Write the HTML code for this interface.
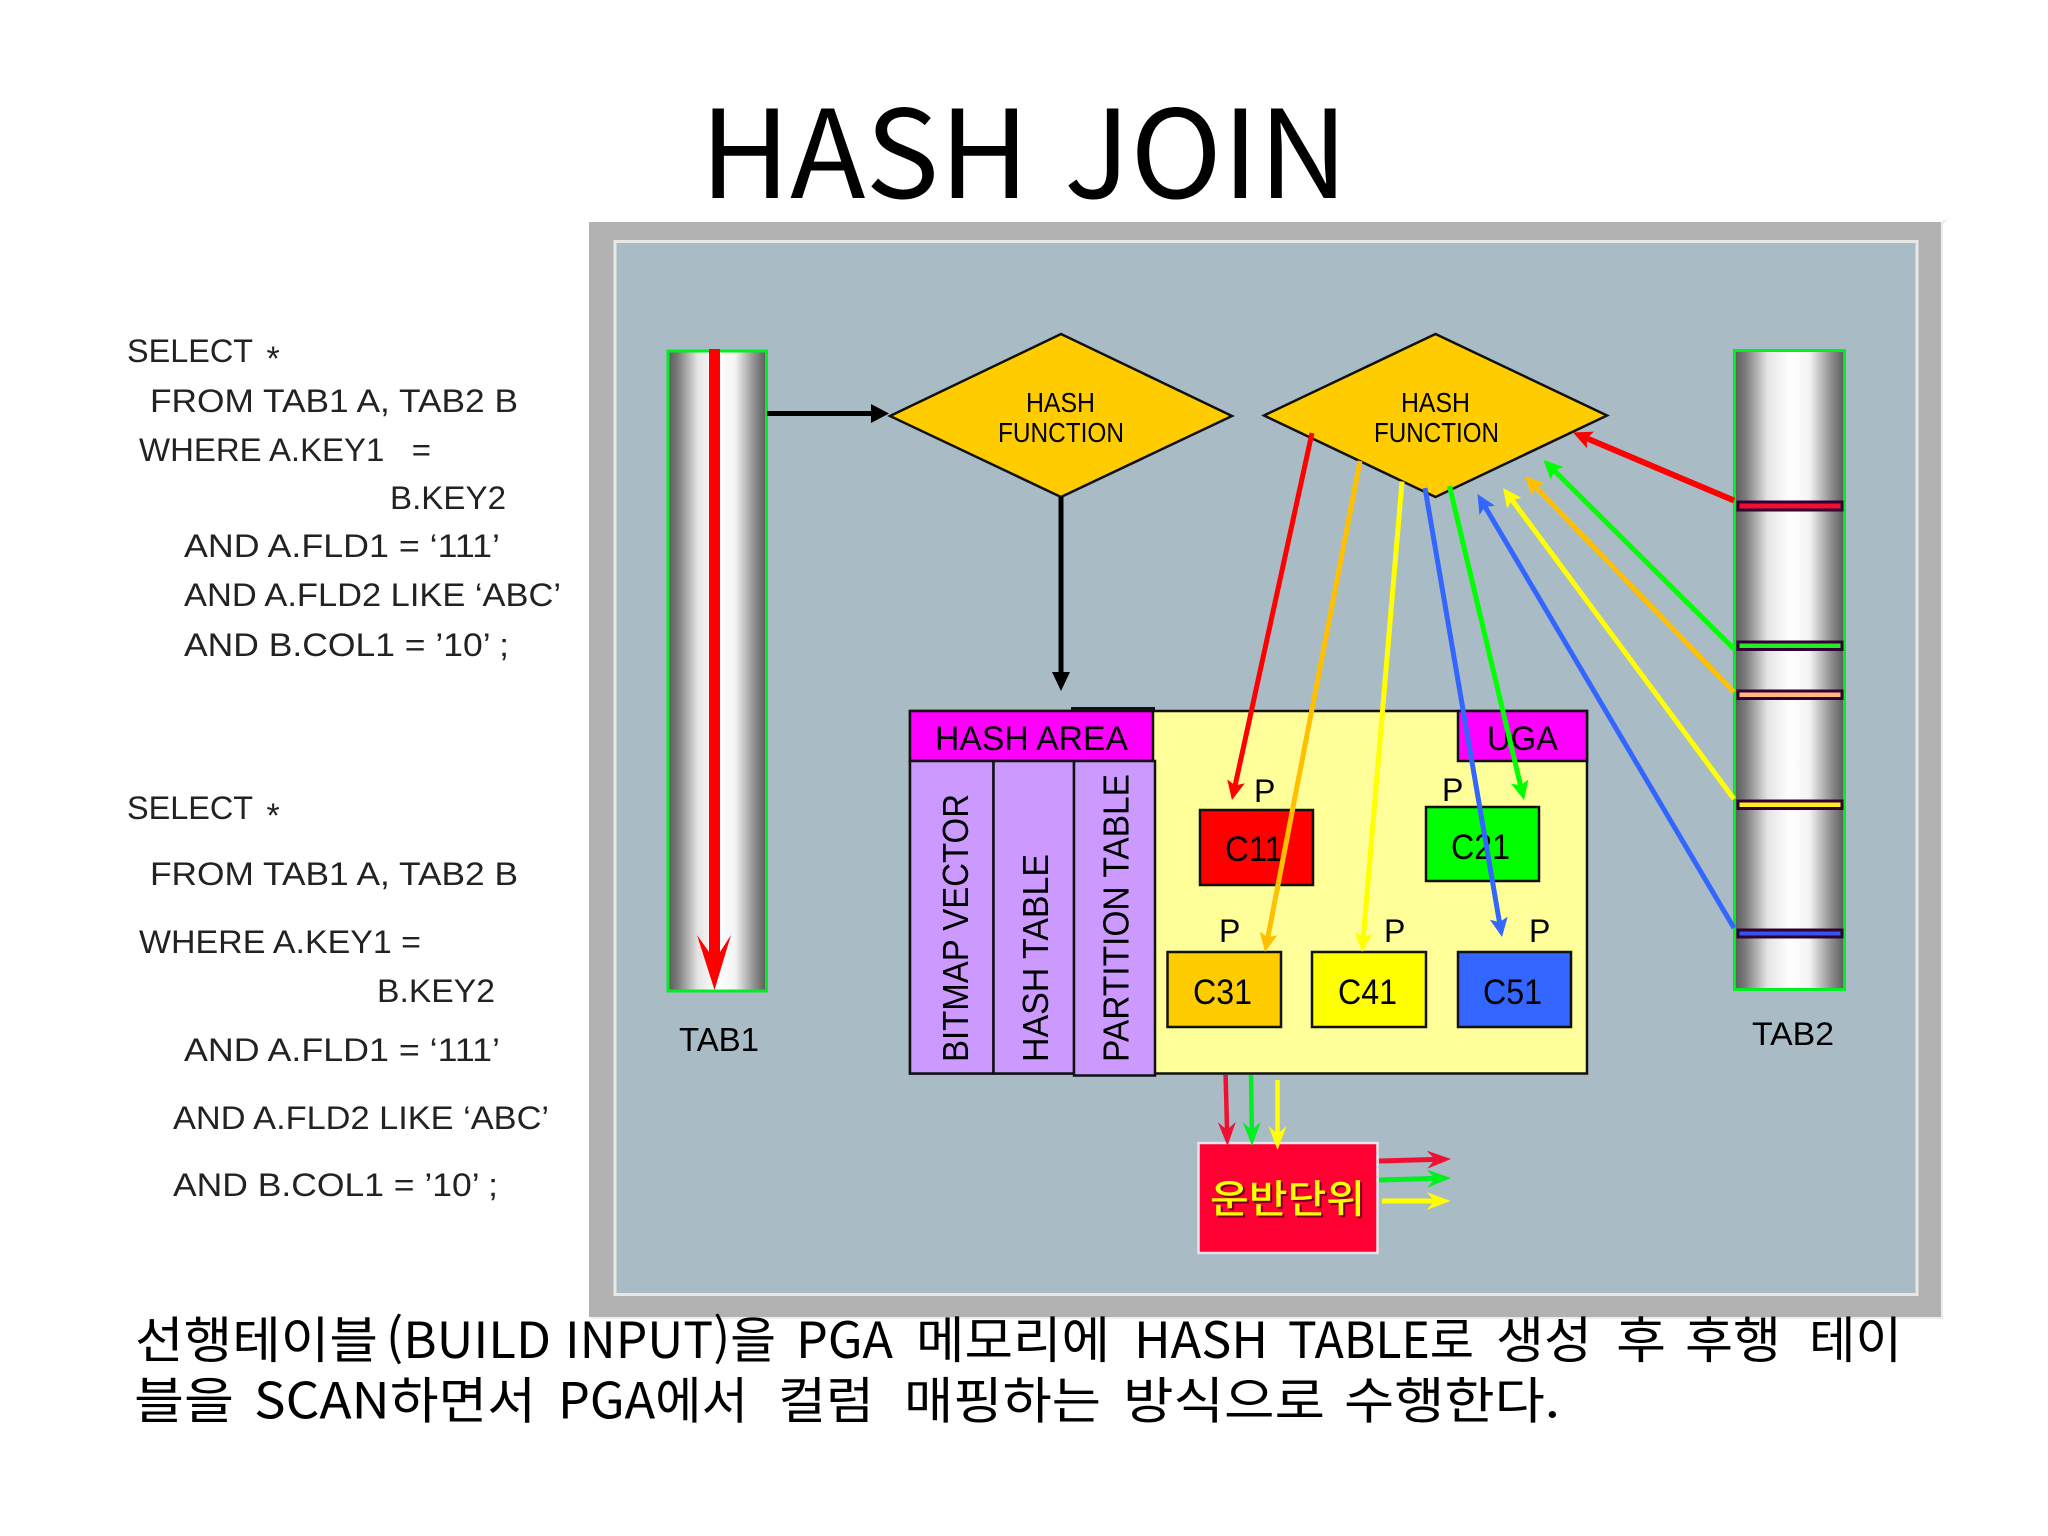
<!DOCTYPE html>
<html lang="ko"><head><meta charset="utf-8"><title>HASH JOIN</title>
<style>
html,body{margin:0;padding:0;background:#fff;width:2048px;height:1536px;overflow:hidden}
svg{display:block}
text{font-family:"Liberation Sans","Noto Sans CJK KR",sans-serif;fill:#000}
.k{font-family:"Noto Sans CJK KR","Liberation Sans",sans-serif}
.s{font-size:32px;fill:#222}
</style></head><body>
<svg width="2048" height="1536" viewBox="0 0 2048 1536" xmlns="http://www.w3.org/2000/svg">
<defs>
<linearGradient id="cyl" x1="0" x2="1" y1="0" y2="0">
<stop offset="0" stop-color="#5a5a5a"/><stop offset=".1" stop-color="#7c7c7c"/><stop offset=".3" stop-color="#e4e4e4"/><stop offset=".5" stop-color="#fff"/><stop offset=".68" stop-color="#f4f4f4"/><stop offset=".88" stop-color="#8e8e8e"/><stop offset="1" stop-color="#5a5a5a"/>
</linearGradient>
<marker id="mr" markerUnits="userSpaceOnUse" markerWidth="19" markerHeight="18" viewBox="0 0 19 18" refX="9" refY="9" orient="auto"><polygon points="0,0 19,9 0,18 4,9" fill="#ff0000"/></marker>
<marker id="mg" markerUnits="userSpaceOnUse" markerWidth="19" markerHeight="18" viewBox="0 0 19 18" refX="9" refY="9" orient="auto"><polygon points="0,0 19,9 0,18 4,9" fill="#00ff00"/></marker>
<marker id="mo" markerUnits="userSpaceOnUse" markerWidth="19" markerHeight="18" viewBox="0 0 19 18" refX="9" refY="9" orient="auto"><polygon points="0,0 19,9 0,18 4,9" fill="#ffc000"/></marker>
<marker id="my" markerUnits="userSpaceOnUse" markerWidth="19" markerHeight="18" viewBox="0 0 19 18" refX="9" refY="9" orient="auto"><polygon points="0,0 19,9 0,18 4,9" fill="#ffff00"/></marker>
<marker id="mb" markerUnits="userSpaceOnUse" markerWidth="19" markerHeight="18" viewBox="0 0 19 18" refX="9" refY="9" orient="auto"><polygon points="0,0 19,9 0,18 4,9" fill="#3366ff"/></marker>
<marker id="sr" markerUnits="userSpaceOnUse" markerWidth="24" markerHeight="18" viewBox="0 0 24 18" refX="14" refY="9" orient="auto"><polygon points="0,0 24,9 0,18 8,9" fill="#ee1133"/></marker>
<marker id="sg" markerUnits="userSpaceOnUse" markerWidth="24" markerHeight="18" viewBox="0 0 24 18" refX="14" refY="9" orient="auto"><polygon points="0,0 24,9 0,18 8,9" fill="#00ee22"/></marker>
<marker id="sy" markerUnits="userSpaceOnUse" markerWidth="24" markerHeight="18" viewBox="0 0 24 18" refX="14" refY="9" orient="auto"><polygon points="0,0 24,9 0,18 8,9" fill="#ffff00"/></marker>
</defs>

<rect width="2048" height="1536" fill="#fff"/>

<!-- title -->
<text class="k" x="700" y="198" font-size="122" textLength="648" lengthAdjust="spacingAndGlyphs">HASH JOIN</text>

<!-- frame -->
<rect x="591" y="222" width="1352" height="1097" fill="#ececec"/>
<polygon points="1941,222 1948,218 1943,224" fill="#ececec"/>
<rect x="589" y="222" width="1352" height="1095" fill="#b2b2b2"/>
<rect x="615" y="241.500" width="1302" height="1053" fill="#a9bbc5" stroke="#e8e9e4" stroke-width="3"/>

<!-- SQL 1 -->
<text class="s" x="127" y="362" textLength="126" lengthAdjust="spacingAndGlyphs">SELECT</text>
<text class="s" x="266.500" y="370" font-size="34" style="font-size:34px">*</text>
<text class="s" x="150" y="412" textLength="368" lengthAdjust="spacingAndGlyphs">FROM TAB1 A, TAB2 B</text>
<text class="s" x="139" y="461" textLength="292" lengthAdjust="spacingAndGlyphs" xml:space="preserve">WHERE A.KEY1   =</text>
<text class="s" x="390" y="509" textLength="116" lengthAdjust="spacingAndGlyphs">B.KEY2</text>
<text class="s" x="184" y="557" textLength="316" lengthAdjust="spacingAndGlyphs">AND A.FLD1 = ‘111’</text>
<text class="s" x="184" y="606" textLength="377" lengthAdjust="spacingAndGlyphs">AND A.FLD2 LIKE ‘ABC’</text>
<text class="s" x="184" y="656" textLength="325" lengthAdjust="spacingAndGlyphs">AND B.COL1 = ’10’ ;</text>

<!-- SQL 2 -->
<text class="s" x="127" y="819" textLength="126" lengthAdjust="spacingAndGlyphs">SELECT</text>
<text class="s" x="266.500" y="827" style="font-size:34px">*</text>
<text class="s" x="150" y="885" textLength="368" lengthAdjust="spacingAndGlyphs">FROM TAB1 A, TAB2 B</text>
<text class="s" x="139" y="953" textLength="282" lengthAdjust="spacingAndGlyphs">WHERE A.KEY1 =</text>
<text class="s" x="377" y="1002" textLength="118" lengthAdjust="spacingAndGlyphs">B.KEY2</text>
<text class="s" x="184" y="1061" textLength="316" lengthAdjust="spacingAndGlyphs">AND A.FLD1 = ‘111’</text>
<text class="s" x="173" y="1129" textLength="376" lengthAdjust="spacingAndGlyphs">AND A.FLD2 LIKE ‘ABC’</text>
<text class="s" x="173" y="1196" textLength="325" lengthAdjust="spacingAndGlyphs">AND B.COL1 = ’10’ ;</text>

<!-- TAB1 -->
<rect x="668" y="351" width="98.500" height="640" fill="url(#cyl)" stroke="#00ee22" stroke-width="3"/>
<rect x="709" y="349" width="11" height="603" fill="#ff0000"/>
<polygon points="697,935 714.500,990 731,935 720,952 709,952" fill="#ff0000"/>
<text x="679" y="1051" font-size="33" textLength="80" lengthAdjust="spacingAndGlyphs">TAB1</text>

<!-- TAB2 -->
<rect x="1734.500" y="350.500" width="110" height="639" fill="url(#cyl)" stroke="#00ee22" stroke-width="3"/>
<g stroke="#330033" stroke-width="3">
<rect x="1738" y="502" width="104" height="8" fill="#ee1133"/>
<rect x="1738" y="642" width="104" height="7.500" fill="#22ee22"/>
<rect x="1738" y="691" width="104" height="7.500" fill="#ffbb77"/>
<rect x="1738" y="801" width="104" height="7.500" fill="#ffee22"/>
<rect x="1738" y="930" width="104" height="7" fill="#3355ee"/>
</g>
<text x="1752" y="1045" font-size="32" textLength="82" lengthAdjust="spacingAndGlyphs">TAB2</text>

<!-- diamonds -->
<polygon points="890,416 1061,334 1232,416 1061,497" fill="#ffcc00" stroke="#111" stroke-width="2.500" stroke-linejoin="miter"/>
<text x="1026" y="412" font-size="28" textLength="69" lengthAdjust="spacingAndGlyphs">HASH</text>
<text x="998" y="442" font-size="28" textLength="126" lengthAdjust="spacingAndGlyphs">FUNCTION</text>
<polygon points="1264,415.500 1435.500,334 1607,415.500 1435.500,497" fill="#ffcc00" stroke="#111" stroke-width="2.500"/>
<text x="1401" y="412" font-size="28" textLength="69" lengthAdjust="spacingAndGlyphs">HASH</text>
<text x="1374" y="442" font-size="28" textLength="125" lengthAdjust="spacingAndGlyphs">FUNCTION</text>

<!-- black arrows -->
<rect x="767" y="411" width="108" height="5" fill="#000"/>
<polygon points="871,404 889,413.500 871,423" fill="#000"/>
<rect x="1058.500" y="497" width="5" height="178" fill="#000"/>
<polygon points="1052,672 1061,691 1070,672" fill="#000"/>

<!-- memory block -->
<rect x="910" y="711" width="677" height="362.500" fill="#ffff99" stroke="#111" stroke-width="2.500"/>
<rect x="1071" y="707" width="84" height="3" fill="#111"/>
<rect x="910" y="711" width="243" height="50" fill="#ff00ff" stroke="#111" stroke-width="2.500"/>
<rect x="1458" y="711" width="129" height="50" fill="#ff00ff" stroke="#111" stroke-width="2.500"/>
<text x="935" y="750" font-size="34" textLength="193" lengthAdjust="spacingAndGlyphs">HASH AREA</text>
<text x="1487" y="750" font-size="34" textLength="71" lengthAdjust="spacingAndGlyphs">UGA</text>
<g stroke="#111" stroke-width="2.500" fill="#cc99ff">
<rect x="910" y="761" width="83.500" height="312.500"/>
<rect x="993.500" y="761" width="80.500" height="312.500"/>
<rect x="1074" y="761" width="81" height="314.500"/>
</g>
<text transform="translate(968,1062) rotate(-90)" font-size="36" textLength="268" lengthAdjust="spacingAndGlyphs">BITMAP VECTOR</text>
<text transform="translate(1048,1062) rotate(-90)" font-size="36" textLength="208" lengthAdjust="spacingAndGlyphs">HASH TABLE</text>
<text transform="translate(1128.500,1062) rotate(-90)" font-size="36" textLength="288" lengthAdjust="spacingAndGlyphs">PARTITION TABLE</text>

<!-- partitions -->
<g stroke="#111" stroke-width="2.500">
<rect x="1200" y="810" width="113" height="75" fill="#ff0000"/>
<rect x="1426" y="807" width="113" height="74" fill="#00ff00"/>
<rect x="1167.500" y="952" width="113.500" height="75" fill="#ffcc00"/>
<rect x="1312" y="952" width="114" height="75" fill="#ffff00"/>
<rect x="1458" y="952" width="113" height="75" fill="#3366ff"/>
</g>
<g font-size="35">
<text x="1225" y="861" textLength="58" lengthAdjust="spacingAndGlyphs">C11</text>
<text x="1451" y="859" textLength="59" lengthAdjust="spacingAndGlyphs">C21</text>
<text x="1193" y="1004" textLength="59" lengthAdjust="spacingAndGlyphs">C31</text>
<text x="1338" y="1004" textLength="59" lengthAdjust="spacingAndGlyphs">C41</text>
<text x="1483" y="1004" textLength="59" lengthAdjust="spacingAndGlyphs">C51</text>
</g>
<g font-size="32">
<text x="1254" y="802">P</text>
<text x="1442" y="801">P</text>
<text x="1219" y="942">P</text>
<text x="1384" y="942">P</text>
<text x="1529" y="942">P</text>
</g>

<!-- coloured arrows -->
<g fill="none" stroke-width="5">
<line x1="1734" y1="500.500" x2="1582.200" y2="436.400" stroke="#ff0000" stroke-width="6" marker-end="url(#mr)"/>
<line x1="1734" y1="649" x2="1550.600" y2="467" stroke="#00ff00" marker-end="url(#mg)"/>
<line x1="1734" y1="692" x2="1532" y2="483.200" stroke="#ffc000" marker-end="url(#mo)"/>
<line x1="1734" y1="799" x2="1509" y2="496" stroke="#ffff00" marker-end="url(#my)"/>
<line x1="1734" y1="928" x2="1482.600" y2="502.600" stroke="#3366ff" marker-end="url(#mb)"/>
<line x1="1312" y1="433" x2="1234.100" y2="790.200" stroke="#ff0000" marker-end="url(#mr)"/>
<line x1="1360" y1="461" x2="1266.900" y2="942.200" stroke="#ffc000" marker-end="url(#mo)"/>
<line x1="1402" y1="481.500" x2="1362.900" y2="942" stroke="#ffff00" marker-end="url(#my)"/>
<line x1="1425" y1="488" x2="1500.300" y2="927.100" stroke="#3366ff" marker-end="url(#mb)"/>
<line x1="1449.500" y1="486" x2="1521.700" y2="790.300" stroke="#00ff00" marker-end="url(#mg)"/>
</g>

<!-- transport unit -->
<rect x="1198.500" y="1143" width="179" height="110" fill="#ff0033" stroke="#e8e4ec" stroke-width="2.500"/>
<text class="k" x="1210" y="1213" font-size="39" font-weight="500" textLength="155" lengthAdjust="spacingAndGlyphs" style="fill:#ffff00;filter:drop-shadow(2px 2px 0 #7a0018)">운반단위</text>
<g fill="none" stroke-width="4.500">
<line x1="1225.600" y1="1075" x2="1227.200" y2="1136" stroke="#ee1133" marker-end="url(#sr)"/>
<line x1="1251" y1="1075" x2="1251.900" y2="1136" stroke="#00ee22" marker-end="url(#sg)"/>
<line x1="1277.500" y1="1080" x2="1277.500" y2="1140" stroke="#ffff00" marker-end="url(#sy)"/>
<line x1="1379" y1="1161" x2="1441" y2="1159.300" stroke="#ee1133" stroke-width="5" marker-end="url(#sr)"/>
<line x1="1379" y1="1180" x2="1441" y2="1178.300" stroke="#00ee22" stroke-width="5" marker-end="url(#sg)"/>
<line x1="1382" y1="1201" x2="1440.500" y2="1201" stroke="#ffff00" stroke-width="5" marker-end="url(#sy)"/>
</g>

<!-- caption -->
<g class="k" font-size="50">
<text class="k" x="135" y="1358" textLength="243" lengthAdjust="spacingAndGlyphs">선행테이블</text>
<text class="k" x="386" y="1358" textLength="165" lengthAdjust="spacingAndGlyphs">(BUILD</text>
<text class="k" x="565" y="1358" textLength="211" lengthAdjust="spacingAndGlyphs">INPUT)을</text>
<text class="k" x="796" y="1358" textLength="97" lengthAdjust="spacingAndGlyphs">PGA</text>
<text class="k" x="916" y="1358" textLength="194" lengthAdjust="spacingAndGlyphs">메모리에</text>
<text class="k" x="1134" y="1358" textLength="134" lengthAdjust="spacingAndGlyphs">HASH</text>
<text class="k" x="1288" y="1358" textLength="186" lengthAdjust="spacingAndGlyphs">TABLE로</text>
<text class="k" x="1496" y="1358" textLength="96" lengthAdjust="spacingAndGlyphs">생성</text>
<text class="k" x="1616" y="1358" textLength="50" lengthAdjust="spacingAndGlyphs">후</text>
<text class="k" x="1685" y="1358" textLength="96" lengthAdjust="spacingAndGlyphs">후행</text>
<text class="k" x="1809" y="1358" textLength="93" lengthAdjust="spacingAndGlyphs">테이</text>
<text class="k" x="134" y="1418.500" textLength="100" lengthAdjust="spacingAndGlyphs">블을</text>
<text class="k" x="254" y="1418.500" textLength="282" lengthAdjust="spacingAndGlyphs">SCAN하면서</text>
<text class="k" x="558" y="1418.500" textLength="190" lengthAdjust="spacingAndGlyphs">PGA에서</text>
<text class="k" x="778" y="1418.500" textLength="96" lengthAdjust="spacingAndGlyphs">컬럼</text>
<text class="k" x="904" y="1418.500" textLength="197" lengthAdjust="spacingAndGlyphs">매핑하는</text>
<text class="k" x="1123" y="1418.500" textLength="202" lengthAdjust="spacingAndGlyphs">방식으로</text>
<text class="k" x="1344" y="1418.500" textLength="216" lengthAdjust="spacingAndGlyphs">수행한다.</text>
</g>
</svg>
</body></html>
